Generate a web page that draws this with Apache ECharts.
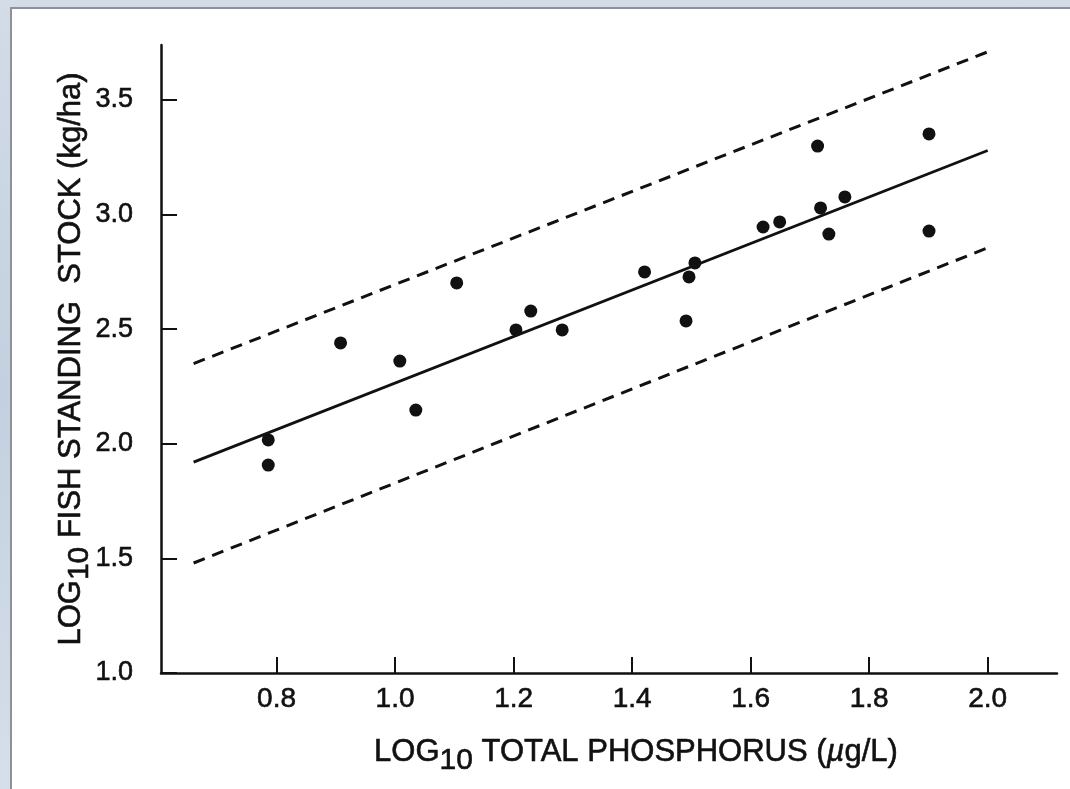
<!DOCTYPE html>
<html>
<head>
<meta charset="utf-8">
<script src="https://cdn.jsdelivr.net/npm/echarts@6/dist/echarts.min.js"></script>
<style>
  html, body { margin: 0; padding: 0; width: 1070px; height: 789px; overflow: hidden;
    background: linear-gradient(to bottom, #d3dce7 0%, #c2d0df 50%, #d6dfe9 100%); }
  #frame { position: absolute; left: 10px; top: 7px; width: 1070px; height: 800px;
    background: #ffffff; border: 2px solid #8c9298; box-sizing: border-box; }
  #chart { position: absolute; left: 0; top: 0; width: 1070px; height: 789px; }
</style>
</head>
<body>
<div id="frame"></div>
<div id="chart"></div>
<script>
// Data
const pointsX = [0.786, 0.786, 0.908, 1.008, 1.035, 1.104, 1.204, 1.229, 1.282, 1.421, 1.491, 1.496, 1.506, 1.621, 1.649, 1.713, 1.718, 1.732, 1.759, 1.901, 1.901];
const pointsY = [2.017, 1.907, 2.440, 2.361, 2.147, 2.702, 2.497, 2.579, 2.497, 2.750, 2.536, 2.728, 2.789, 2.946, 2.968, 3.299, 3.029, 2.915, 3.077, 3.352, 2.928];
const lineX = [0.66, 2.0];
const fitY = [1.92, 3.28];
const upperY = [2.35, 3.71];
const lowerY = [1.48, 2.855];
const xTicks = [0.8, 1.0, 1.2, 1.4, 1.6, 1.8, 2.0];
const yTicks = [1.0, 1.5, 2.0, 2.5, 3.0, 3.5];

const FONT = 'Liberation Sans';
const INK = '#111111';
const thick = { textBorderColor: INK, textBorderWidth: 0.6 };
const tk = { fill: INK, stroke: INK, lineWidth: 0.6, fontFamily: FONT };

const scatterData = pointsX.map((x, i) => [x, pointsY[i]]);
const mk = ys => lineX.map((x, i) => [x, ys[i]]);

const chart = echarts.init(document.getElementById('chart'), null, { renderer: 'canvas' });
chart.setOption({
  backgroundColor: 'transparent',
  animation: false,
  grid: { left: 161, top: 45, right: 13, bottom: 116, containLabel: false },
  xAxis: {
    type: 'value', min: 0.605, max: 2.117,
    axisLine: { show: true, onZero: false, lineStyle: { color: INK, width: 2.5 } },
    axisTick: { show: true, inside: true, length: 16, customValues: xTicks, lineStyle: { color: INK, width: 2 } },
    axisLabel: Object.assign({ customValues: xTicks, margin: 12, color: INK, fontFamily: FONT, fontSize: 28,
      formatter: v => v.toFixed(1) }, thick),
    splitLine: { show: false }
  },
  yAxis: {
    type: 'value', min: 1.0, max: 3.74,
    axisLine: { show: true, onZero: false, lineStyle: { color: INK, width: 2.5 } },
    axisTick: { show: true, inside: true, length: 16, customValues: yTicks, lineStyle: { color: INK, width: 2 } },
    axisLabel: Object.assign({ customValues: yTicks, margin: 28, color: INK, fontFamily: FONT, fontSize: 27,
      formatter: v => v.toFixed(1) }, thick),
    splitLine: { show: false }
  },
  graphic: [
    {
      type: 'text', x: 636, y: 752,
      style: {
        text: '{a|LOG}{s|10}{a| TOTAL PHOSPHORUS (}{i|µ}{a|g/L)}',
        align: 'center', verticalAlign: 'middle',
        rich: {
          a: Object.assign({ fontSize: 31 }, tk),
          i: Object.assign({ fontSize: 31, fontStyle: 'italic' }, tk),
          s: Object.assign({ fontSize: 30, padding: [18, 0, 0, 0] }, tk)
        }
      }
    },
    {
      type: 'text', x: 71, y: 359, rotation: Math.PI / 2,
      style: {
        text: '{a|LOG}{s|10}{a| FISH STANDING  STOCK (kg/ha)}',
        align: 'center', verticalAlign: 'middle',
        rich: {
          a: Object.assign({ fontSize: 31 }, tk),
          s: Object.assign({ fontSize: 30, padding: [18, 0, 0, 0] }, tk)
        }
      }
    }
  ],
  series: [
    { type: 'line', data: mk(upperY), symbol: 'none', lineStyle: { color: INK, width: 3, type: [12, 8] } },
    { type: 'line', data: mk(fitY), symbol: 'none', lineStyle: { color: INK, width: 2.8 } },
    { type: 'line', data: mk(lowerY), symbol: 'none', lineStyle: { color: INK, width: 3, type: [12, 8] } },
    { type: 'scatter', data: scatterData, symbol: 'circle', symbolSize: 13, itemStyle: { color: INK, opacity: 1 } }
  ]
});
</script>
</body>
</html>
